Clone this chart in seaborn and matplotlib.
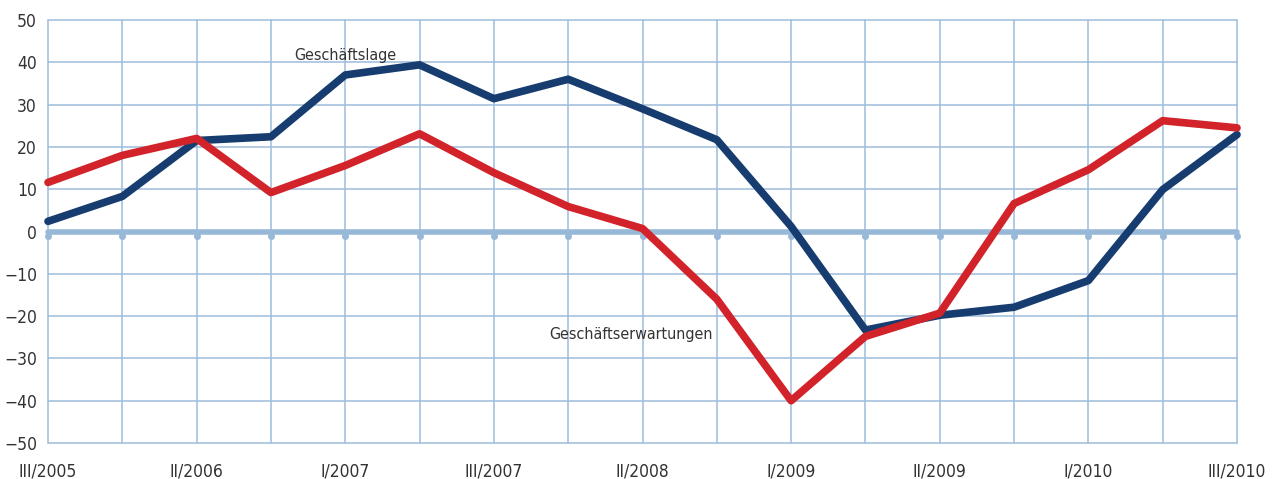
import numpy as np
import pandas as pd
import matplotlib
matplotlib.use("Agg")
import matplotlib.pyplot as plt
import seaborn as sns

# quarters III/2005 .. III/2010 (17 points), labels every other one as in the source
quarters = list(range(17))
tick_labels = ["III/2005", "II/2006", "I/2007", "III/2007", "II/2008",
               "I/2009", "II/2009", "I/2010", "III/2010"]

lage = [2.4, 8.3, 21.5, 22.4, 37.0, 39.4, 31.4, 36.0, 29.0, 21.7,
        1.2, -23.3, -19.8, -17.9, -11.6, 9.9, 22.9]
erwartungen = [11.6, 18.0, 22.0, 9.2, 15.6, 23.1, 13.9, 5.9, 0.7, -16.0,
               -40.0, -24.8, -19.3, 6.6, 14.6, 26.2, 24.5]

df = pd.DataFrame({
    "q": quarters * 2,
    "wert": lage + erwartungen,
    "serie": ["Geschäftslage"] * 17 + ["Geschäftserwartungen"] * 17,
})

sns.set_style("white")
plt.rcParams["font.family"] = ["DejaVu Sans"]
plt.rcParams["font.stretch"] = "condensed"

fig = plt.figure(figsize=(12.77, 4.79), dpi=100)
ax = fig.add_axes([48 / 1277, 1 - 443 / 479, (1237 - 48) / 1277, (443 - 20) / 479])

grid_col = "#9dbcdb"
for q in quarters:
    ax.axvline(q, color=grid_col, lw=1.1, zorder=0)
for y in range(-50, 51, 10):
    ax.axhline(y, color=grid_col, lw=1.1, zorder=0)
ax.axhline(0, color="#98b8d8", lw=4, zorder=1)
ax.plot(quarters, [0] * 17, ls="none", marker="o", ms=4, color="#98b8d8", clip_on=False,
        transform=ax.transData + matplotlib.transforms.ScaledTranslation(0, -3 / 72, fig.dpi_scale_trans), zorder=1)

sns.lineplot(data=df, x="q", y="wert", hue="serie",
             palette={"Geschäftslage": "#163c70", "Geschäftserwartungen": "#d2232a"},
             linewidth=5.5, legend=False, ax=ax, zorder=3)
for ln in ax.lines:
    ln.set_clip_on(False)

ax.set_xlim(0, 16)
ax.set_ylim(-50, 50)
ax.set_yticks(range(-50, 51, 10))
ax.set_xticks(quarters[::2])
ax.set_xticklabels(tick_labels)
ax.set_xlabel("")
ax.set_ylabel("")
for s in ax.spines.values():
    s.set_visible(False)
ax.tick_params(axis="y", length=6, color=grid_col, labelsize=12.5, labelcolor="#333333", pad=2)
ax.tick_params(axis="x", length=0, labelsize=12.5, labelcolor="#333333", pad=14)

ax.text(4, 41.5, "Geschäftslage", fontsize=11.5, color="#333333", ha="center", va="center")
ax.text(7.84, -24.3, "Geschäftserwartungen", fontsize=11.5, color="#333333", ha="center", va="center")

fig.savefig("out.png", dpi=100)
